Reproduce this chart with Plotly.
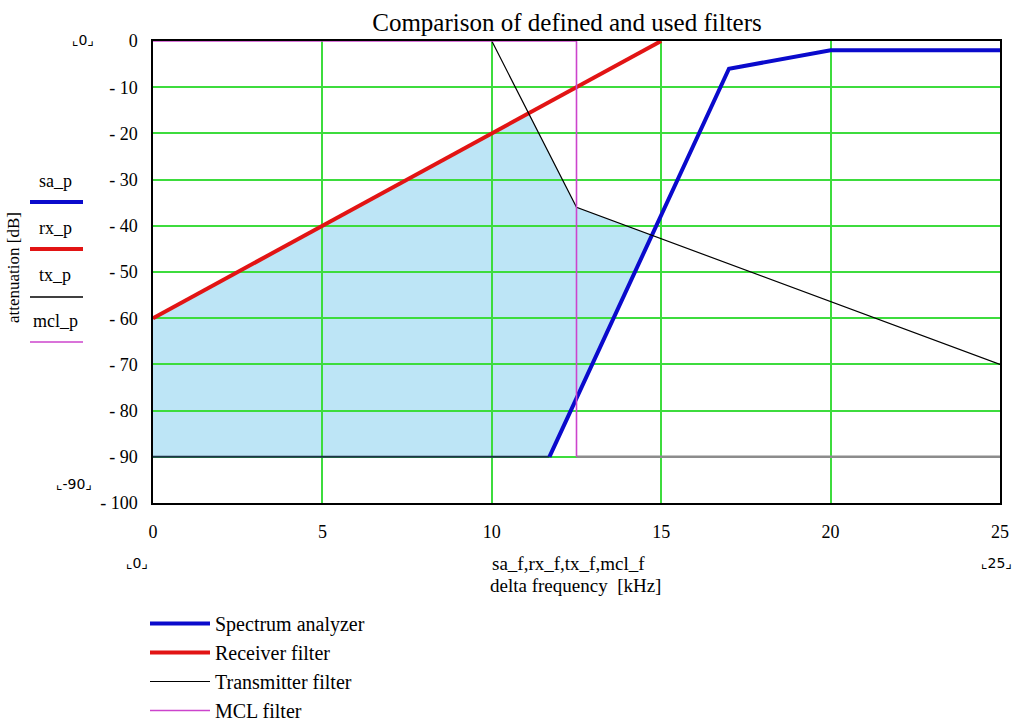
import numpy as np
import plotly.graph_objects as go

# ---- data ----
sa_f = [11.7, 17.0, 20.0, 25.0]
sa_p = [-90.0, -6.0, -2.0, -2.0]
rx_f = [0.0, 15.0]
rx_p = [-60.0, 0.0]
tx_f = [10.0, 12.5, 25.0]
tx_p = [0.0, -36.0, -70.0]
mcl_f = [0.0, 12.5, 12.5]
mcl_p = [0.0, 0.0, -90.0]
floor_level = -90.0
floor_left_f = [0.0, 11.7]
floor_right_f = [12.5, 25.0]

x_ticks = [0, 5, 10, 15, 20, 25]
x_ticktext = ["0", "5", "10", "15", "20", "25"]
y_ticks = [0, -10, -20, -30, -40, -50, -60, -70, -80, -90, -100]
y_ticktext = ["0", "- 10", "- 20", "- 30", "- 40", "- 50", "- 60", "- 70", "- 80", "- 90", "- 100"]

series_names = ["Spectrum analyzer", "Receiver filter", "Transmitter filter", "MCL filter"]
short_names = ["sa_p", "rx_p", "tx_p", "mcl_p"]

# ---- styles ----
SERIF = "Liberation Serif, Times New Roman, serif"
C_SA, C_RX, C_TX, C_MCL = "#0a0acc", "#e21414", "#000000", "#cc44cc"
GRID = "#3ddc3d"
FILLC = "#bde5f6"

W, H = 1016, 725
L, R, T, B = 153, 16, 41, 222
PW, PH = W - L - R, H - T - B


def pxx(p):
    return (p - L) / PW


def pxy(p):
    return (H - B - p) / PH


# ---- shaded region between max(sa, floor) and min(rx, tx) ----
xs = np.linspace(0, 25, 1001)
upper = np.minimum(np.interp(xs, rx_f, rx_p), np.interp(xs, tx_f, tx_p))
lower = np.maximum(np.interp(xs, sa_f, sa_p), floor_level)
mask = upper > lower
xu, yu, yl = xs[mask], upper[mask], lower[mask]
pts = list(zip(xu, yu)) + list(zip(xu[::-1], yl[::-1]))
path = "M " + " L ".join(f"{a:.4f},{b:.4f}" for a, b in pts) + " Z"

fig = go.Figure()

fig.add_trace(go.Scatter(x=floor_left_f, y=[floor_level] * 2, mode="lines",
                         line=dict(color="#1c3448", width=2), showlegend=False,
                         hoverinfo="skip", cliponaxis=False))
fig.add_trace(go.Scatter(x=floor_right_f, y=[floor_level] * 2, mode="lines",
                         line=dict(color="#8c8c8c", width=2.5), showlegend=False,
                         hoverinfo="skip", cliponaxis=False))
fig.add_trace(go.Scatter(x=sa_f, y=sa_p, mode="lines", name=series_names[0],
                         line=dict(color=C_SA, width=4), cliponaxis=False))
fig.add_trace(go.Scatter(x=rx_f, y=rx_p, mode="lines", name=series_names[1],
                         line=dict(color=C_RX, width=4), cliponaxis=False))
fig.add_trace(go.Scatter(x=tx_f, y=tx_p, mode="lines", name=series_names[2],
                         line=dict(color=C_TX, width=1.2), cliponaxis=False))
fig.add_trace(go.Scatter(x=mcl_f, y=mcl_p, mode="lines", name=series_names[3],
                         line=dict(color=C_MCL, width=1.6), cliponaxis=False))

shapes = [dict(type="path", path=path, xref="x", yref="y", layer="below",
               fillcolor=FILLC, line=dict(width=0))]

# left mini legend (Mathcad style trace labels)
mini_colors = [C_SA, C_RX, C_TX, C_MCL]
mini_widths = [4, 4, 1.5, 1.6]
mini_line_y = [202, 249, 297, 342]
mini_text_y = [181, 228, 275, 321]
annotations = []
for nm, c, w, ly, ty in zip(short_names, mini_colors, mini_widths, mini_line_y, mini_text_y):
    shapes.append(dict(type="line", xref="paper", yref="paper",
                       x0=pxx(30), x1=pxx(83), y0=pxy(ly), y1=pxy(ly),
                       line=dict(color=c, width=w)))
    annotations.append(dict(text=nm, xref="paper", yref="paper", x=pxx(55), y=pxy(ty),
                            showarrow=False, xanchor="center", yanchor="middle",
                            font=dict(family=SERIF, size=18, color="black")))

# y axis label
annotations.append(dict(text="attenuation [dB]", xref="paper", yref="paper",
                        x=pxx(13), y=pxy(268), textangle=-90, showarrow=False,
                        xanchor="center", yanchor="middle",
                        font=dict(family=SERIF, size=17, color="black")))
# x axis labels
annotations.append(dict(text="sa_f,rx_f,tx_f,mcl_f", xref="paper", yref="paper",
                        x=pxx(568), y=pxy(563), showarrow=False,
                        xanchor="center", yanchor="middle",
                        font=dict(family=SERIF, size=19, color="black")))
annotations.append(dict(text="delta frequency  [kHz]", xref="paper", yref="paper",
                        x=pxx(575), y=pxy(585), showarrow=False,
                        xanchor="center", yanchor="middle",
                        font=dict(family=SERIF, size=19, color="black")))
# Mathcad axis-limit markers
for txt, cx, cy, anc in [("⌞0⌟", 83, 40, "center"), ("⌞-90⌟", 74, 484, "center"),
                         ("⌞0⌟", 137, 563, "center"), ("⌞25⌟", 1014, 563, "right")]:
    annotations.append(dict(text=txt, xref="paper", yref="paper", x=pxx(cx), y=pxy(cy),
                            showarrow=False, xanchor=anc, yanchor="middle",
                            font=dict(family="DejaVu Sans", size=14, color="black")))

fig.update_layout(
    width=W, height=H,
    margin=dict(l=L, r=R, t=T, b=B, pad=0, autoexpand=False),
    paper_bgcolor="white", plot_bgcolor="white",
    title=dict(text="Comparison of defined and used filters", x=pxx(567), xref="paper",
               xanchor="center", y=(H - 22) / H, yref="container", yanchor="middle",
               font=dict(family=SERIF, size=25, color="black")),
    xaxis=dict(range=[0, 25], tickvals=x_ticks, ticktext=x_ticktext,
               showgrid=True, gridcolor=GRID, gridwidth=1.5, zeroline=False,
               showline=True, linecolor="black", linewidth=1.5, mirror=True,
               ticks="", ticklabelstandoff=12, layer="below traces",
               tickfont=dict(family=SERIF, size=18, color="black")),
    yaxis=dict(range=[-100, 0], tickvals=y_ticks, ticktext=y_ticktext,
               showgrid=True, gridcolor=GRID, gridwidth=1.5, zeroline=False,
               showline=True, linecolor="black", linewidth=1.5, mirror=True,
               ticks="", ticklabelstandoff=10, layer="below traces",
               tickfont=dict(family=SERIF, size=18, color="black")),
    legend=dict(x=pxx(145), y=pxy(604), xanchor="left", yanchor="top",
                font=dict(family=SERIF, size=20, color="black"),
                bgcolor="rgba(0,0,0,0)", itemwidth=60, tracegroupgap=0),
    shapes=shapes,
    annotations=annotations,
    showlegend=True,
)

fig.write_html("out.html", config={"displayModeBar": False},
               post_script="document.body.style.margin='0';")
